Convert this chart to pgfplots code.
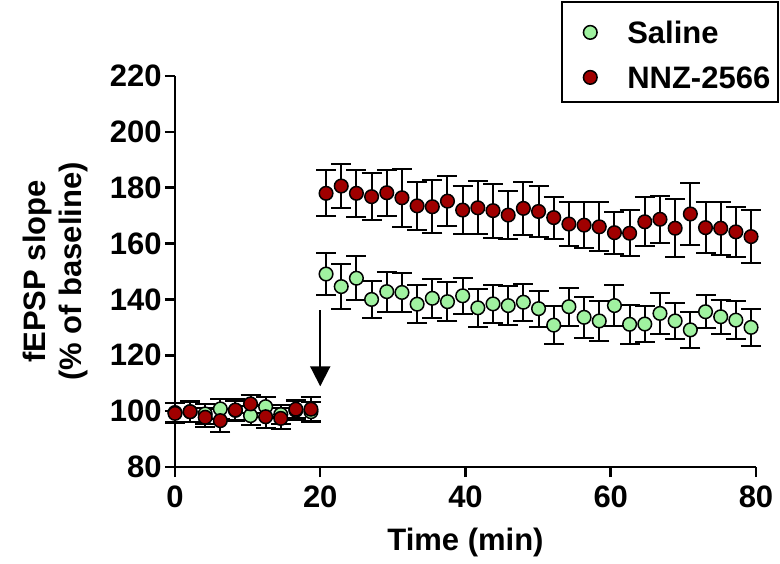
\documentclass[border=0pt]{standalone}
\usepackage{pgfplots}
\pgfplotsset{compat=1.18}
\usepackage{pgfplotstable}
\usepackage{fontspec}
\setmainfont{Liberation Sans}
\usetikzlibrary{arrows.meta}

\definecolor{salgreen}{RGB}{160,242,160}
\definecolor{nnzred}{RGB}{160,0,0}

% time (min), mean, sem
\pgfplotstableread{
t y e
0.00 99.5 3.5
2.08 99.8 3.6
4.16 99.0 3.5
6.24 100.8 3.6
8.32 100.3 3.5
10.40 98.4 3.4
12.48 101.6 3.6
14.56 98.8 3.5
16.64 100.3 3.4
18.72 99.8 3.5
20.80 149.1 7.6
22.89 144.6 8.1
24.98 147.6 7.8
27.07 140.0 6.7
29.16 142.8 7.2
31.25 142.5 6.9
33.34 138.3 6.8
35.43 140.4 7.0
37.52 139.2 6.9
39.61 141.3 6.4
41.70 137.0 6.8
43.79 138.4 6.7
45.88 137.8 7.0
47.97 139.0 6.7
50.06 136.7 6.4
52.15 130.8 6.9
54.24 137.4 6.8
56.33 133.6 7.3
58.42 132.3 7.2
60.51 137.8 7.2
62.60 131.1 7.0
64.69 131.2 6.6
66.78 135.0 7.3
68.87 132.3 6.4
70.96 129.1 6.4
73.05 135.6 6.0
75.14 133.8 6.1
77.23 132.6 6.8
79.32 130.0 6.7
}\saline

\pgfplotstableread{
t y e
0.00 99.2 3.6
2.08 99.8 3.8
4.16 97.8 3.3
6.24 96.6 4.2
8.32 100.4 3.8
10.40 102.6 3.2
12.48 98.0 4.2
14.56 97.4 3.9
16.64 100.7 3.3
18.72 100.7 4.5
20.80 178.0 8.2
22.89 180.6 7.9
24.98 178.0 8.5
27.07 176.8 8.4
29.16 178.2 8.3
31.25 176.4 10.3
33.34 173.5 8.5
35.43 173.2 9.5
37.52 175.2 9.0
39.61 172.0 8.6
41.70 172.8 9.5
43.79 171.8 9.7
45.88 170.2 8.5
47.97 172.6 9.4
50.06 171.5 9.1
52.15 169.3 7.5
54.24 167.0 7.9
56.33 166.6 8.2
58.42 166.0 8.8
60.51 163.9 7.5
62.60 163.7 8.2
64.69 167.8 8.7
66.78 168.7 8.4
68.87 165.5 10.3
70.96 170.6 11.2
73.05 165.7 9.1
75.14 165.5 9.5
77.23 164.2 9.0
79.32 162.5 9.5
}\nnz

\begin{document}
\begin{tikzpicture}
\begin{axis}[
  scale only axis, width=290.5pt, height=195.5pt,
  xmin=0, xmax=80, ymin=80, ymax=220,
  axis lines=left, axis line style={-, line width=1.25pt},
  clip=false,
  xtick={0,20,...,80}, ytick={80,100,...,220},
  tick align=outside, major tick length=5pt,
  tick style={line width=1.25pt, black},
  /pgf/number format/assume math mode=true,
  tick label style={font=\fontsize{15.5}{18}\selectfont\bfseries},
  xticklabel style={inner sep=4pt},
  yticklabel style={inner sep=1.5pt},
  label style={font=\fontsize{15.5}{18}\selectfont\bfseries},
  xlabel={Time (min)},
  xlabel style={at={(axis description cs:0.5,-0.194)}, anchor=center},
  ylabel={fEPSP slope\\(\% of baseline)},
  ylabel style={at={(axis description cs:-0.205,0.5)}, anchor=center, rotate=0, align=center},
  legend style={draw=none, fill=none, at={(rel axis cs:0.690,1.1509)}, anchor=north west,
    inner sep=0pt, column sep=11.5pt, row sep=7.5pt,
    font=\fontsize{15.5}{18}\selectfont\bfseries,
    nodes={inner sep=0pt, text height=11.2pt, text depth=0pt}},
  legend cell align=left,
  legend image code/.code={\path[draw=none, fill=none] (-7pt,-7.5pt) rectangle (7pt,7.5pt); \draw[#1] plot coordinates {(0pt,0pt)};},
  error bars/error bar style={line width=1pt, black},
  error bars/error mark=-,
  error bars/error mark options={rotate=90, line width=1pt, black, mark size=5pt},
]
\addplot[draw=none, mark=none, forget plot, error bars/.cd, y dir=both, y explicit]
  table[x=t, y=y, y error=e] {\saline};
\addplot[only marks, mark=*, mark size=3.4pt, mark options={fill=salgreen, draw=black, line width=0.75pt}]
  table[x=t, y=y] {\saline};
\addplot[draw=none, mark=none, forget plot, error bars/.cd, y dir=both, y explicit]
  table[x=t, y=y, y error=e] {\nnz};
\addplot[only marks, mark=*, mark size=3.4pt, mark options={fill=nnzred, draw=black, line width=0.75pt}]
  table[x=t, y=y] {\nnz};
\legend{Saline, NNZ-2566}
\draw[line width=1pt, -{Triangle[width=10pt, length=10pt]}] (axis cs:20,136.2) -- (axis cs:20,108.9);
\draw[line width=0.75pt] (rel axis cs:0.666,1.189) rectangle (rel axis cs:1.0379,0.9335);
\coordinate (o) at (axis cs:0,80);
\end{axis}
\pgfresetboundingbox
\path (o) ++(-87.5pt,-48pt) rectangle ++(390pt,281.5pt);
\end{tikzpicture}
\end{document}
